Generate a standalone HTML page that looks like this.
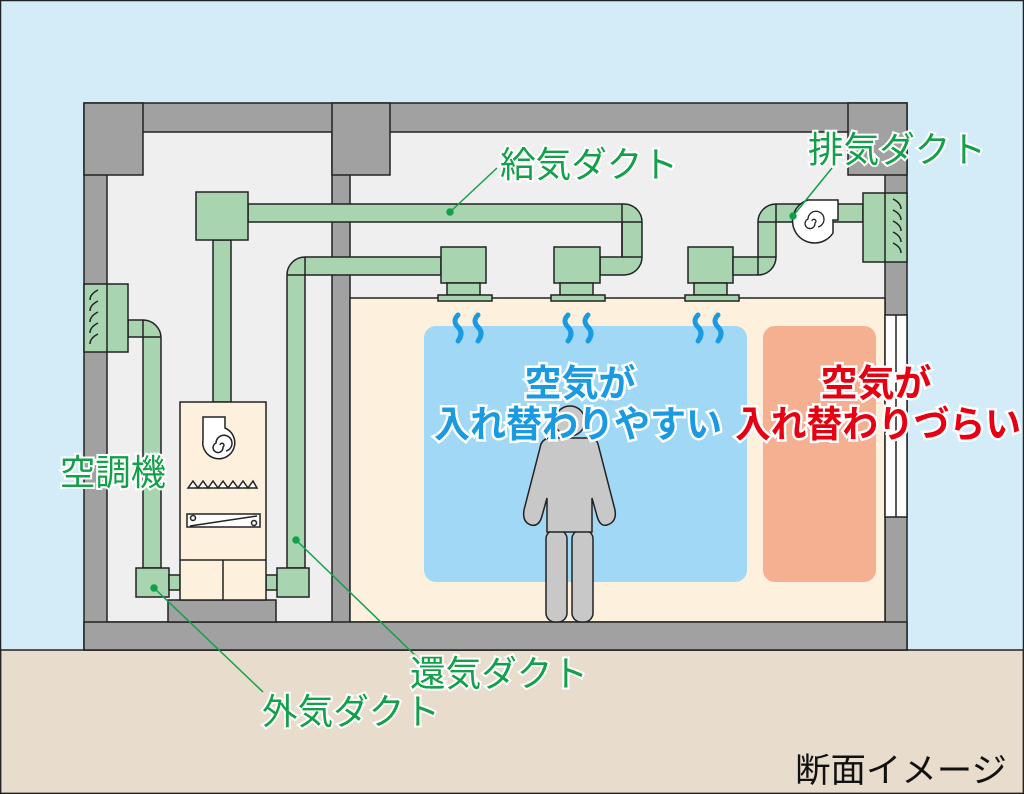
<!DOCTYPE html>
<html><head><meta charset="utf-8"><style>
html,body{margin:0;padding:0;background:#fff}
svg{display:block}
.g{font-family:"Liberation Sans","Noto Sans CJK JP",sans-serif;fill:#14a04a;stroke:#fff;stroke-width:4;paint-order:stroke;font-size:36px}
.b{font-family:"Liberation Sans","Noto Sans CJK JP",sans-serif;font-weight:bold;stroke:#fff;stroke-width:5;paint-order:stroke;font-size:37px}
</style></head><body>
<svg width="1024" height="794" viewBox="0 0 1024 794" xmlns="http://www.w3.org/2000/svg">
<rect x="0" y="0" width="1024" height="650" fill="#d4ebf8"/>
<rect x="0.5" y="650" width="1023" height="143.5" fill="#e8dccd" stroke="#222" stroke-width="1.5"/>
<rect x="0.5" y="0.5" width="1023" height="793" fill="none" stroke="#222" stroke-width="1.5"/>
<g stroke="#222" stroke-width="1.5">
<rect x="84" y="103" width="823" height="547" fill="#a0a1a0"/>
<rect x="107" y="132" width="225" height="490" fill="#efefef"/>
<rect x="350" y="132" width="535" height="490" fill="#efefef"/>
<rect x="350" y="298" width="535" height="324" fill="#fdf0dc"/>
<rect x="84" y="103" width="59" height="72" fill="#a0a1a0"/>
<rect x="332" y="103" width="58" height="72" fill="#a0a1a0"/>
<rect x="848" y="103" width="59" height="72" fill="#a0a1a0"/>
<rect x="84" y="622" width="823" height="28" fill="#a0a1a0"/>
<rect x="885" y="315" width="22" height="202" fill="#fff"/>
<line x1="896" y1="315" x2="896" y2="517"/>
<rect x="168" y="600" width="108" height="22" fill="#a0a1a0"/>
</g>
<rect x="424" y="326" width="323" height="256" rx="12" fill="#a0d8f5"/>
<rect x="763" y="326" width="113" height="256" rx="12" fill="#f4b090"/>
<g stroke="#222" stroke-width="1.5" fill="#a8d5b0">
<path d="M248 204 H624 A18 18 0 0 1 642 222 V257 A18 18 0 0 1 624 275 H600 V257 H622 V222 H248 Z"/>
<line x1="622" y1="204" x2="622" y2="257"/><line x1="622" y1="257" x2="642" y2="257"/><line x1="622" y1="222" x2="642" y2="222"/>
<rect x="213" y="240" width="18" height="162"/>
<rect x="196" y="192" width="52" height="48"/>
<path d="M441 257 H305 A18 18 0 0 0 287 275 V568 H305 V275 H441 Z"/>
<line x1="305" y1="257" x2="305" y2="275"/><line x1="287" y1="275" x2="305" y2="275"/>
<rect x="441" y="247" width="45" height="36"/><rect x="447" y="283" width="33" height="12"/><rect x="438" y="295" width="54" height="6"/>
<rect x="554" y="247" width="46" height="36"/><rect x="560" y="283" width="33" height="12"/><rect x="551" y="295" width="54" height="6"/>
<rect x="688" y="247" width="45" height="36"/><rect x="694" y="283" width="33" height="12"/><rect x="685" y="295" width="54" height="6"/>
<path d="M733 257 H758 V222 A18 18 0 0 1 776 204 H863 V222 H776 V257 A18 18 0 0 1 758 275 H733 Z"/>
<line x1="758" y1="222" x2="776" y2="222"/><line x1="776" y1="204" x2="776" y2="222"/><line x1="758" y1="257" x2="776" y2="257"/><line x1="758" y1="257" x2="758" y2="275"/>
<rect x="863" y="193" width="44" height="69"/><line x1="885" y1="193" x2="885" y2="262"/>
<path d="M128 320 H143 A18 18 0 0 1 161 338 V568 H143 V337 H128 Z"/>
<line x1="143" y1="320" x2="143" y2="337"/><line x1="143" y1="337" x2="161" y2="337"/>
<rect x="84" y="284" width="44" height="68"/><line x1="107" y1="284" x2="107" y2="352"/>
<rect x="136" y="568" width="33" height="29"/>
<rect x="169" y="575" width="11" height="15"/>
<rect x="266" y="575" width="11" height="15"/>
<rect x="277" y="568" width="32" height="29"/>
</g>
<g fill="none" stroke="#222" stroke-width="1.5">
<path d="M98 290 q-8 4 -8 10 M98 301 q-8 4 -8 10 M98 312 q-8 4 -8 10 M98 323 q-8 4 -8 10 M98 334 q-8 4 -8 10"/>
<path d="M893 199 q8 4 8 10 M893 210 q8 4 8 10 M893 221 q8 4 8 10 M893 232 q8 4 8 10 M893 243 q8 4 8 10"/>
</g>
<path d="M838 200 H808 A22 22 0 1 0 833 233 V220 H838 Z" fill="#fff" stroke="#222" stroke-width="1.5"/>
<path d="M812 221 a2 2 0 1 1 3 2 a5 5 0 1 1 -7 -4 a8 8 0 1 1 10 8" fill="none" stroke="#222" stroke-width="1.3"/>
<g stroke="#222" stroke-width="1.5">
<rect x="180" y="402" width="86" height="198" fill="#fdf0dc"/>
<line x1="180" y1="560" x2="266" y2="560"/><line x1="223" y1="560" x2="223" y2="600"/>
<path d="M203 417 H225 V428 A16 16 0 1 1 203 440 Z" fill="#fff"/>
<path d="M220 445 a2 2 0 1 1 3 2 a5 5 0 1 1 -7 -4 a8 8 0 1 1 10 8" fill="none"/>
<path d="M188 488 l5 -7 l5 7 l5 -7 l5 7 l5 -7 l5 7 l5 -7 l5 7 l5 -7 l5 7 l5 -7 l5 7 l5 -7 l4 7 Z" fill="#fff"/>
<rect x="187" y="514" width="73" height="13" fill="#fff"/>
<line x1="190" y1="526" x2="257" y2="516"/>
<circle cx="193" cy="518" r="2.5" fill="#fff"/><circle cx="254" cy="523" r="2.5" fill="#fff"/>
</g>
<g fill="none" stroke="#1a9ae0" stroke-width="5" stroke-linecap="round">
<path d="M458 315 q-6 6 0 12 q6 6 0 14"/><path d="M478 315 q-6 6 0 12 q6 6 0 14"/>
<path d="M568 315 q-6 6 0 12 q6 6 0 14"/><path d="M588 315 q-6 6 0 12 q6 6 0 14"/>
<path d="M698 315 q-6 6 0 12 q6 6 0 14"/><path d="M718 315 q-6 6 0 12 q6 6 0 14"/>
</g>
<g fill="#c8c8c8" stroke="#222" stroke-width="1.5">
<rect x="546" y="530" width="21" height="92" rx="9"/>
<rect x="572" y="530" width="21" height="92" rx="9"/>
<path d="M550 438 H590 Q596 438 598 444 L615 510 Q617 522 607 525 Q600 527 597 516 L592 498 V532 H547 V498 L542 516 Q539 527 531 525 Q522 522 524 510 L541 444 Q544 438 550 438 Z"/>
<circle cx="570" cy="421" r="15"/>
</g>
<text class="b" x="580" y="396" text-anchor="middle" fill="#1a9ae0">空気が</text>
<text class="b" x="578" y="437" text-anchor="middle" fill="#1a9ae0" textLength="288" lengthAdjust="spacingAndGlyphs">入れ替わりやすい</text>
<text class="b" x="876" y="396" text-anchor="middle" fill="#e60012">空気が</text>
<text class="b" x="878" y="437" text-anchor="middle" fill="#e60012" textLength="286" lengthAdjust="spacingAndGlyphs">入れ替わりづらい</text>
<g stroke="#14a04a" stroke-width="1.5" fill="#14a04a">
<line x1="450" y1="212" x2="497" y2="168"/><circle cx="450" cy="212" r="3"/>
<line x1="793" y1="216" x2="832" y2="168"/><circle cx="793" cy="216" r="3"/>
<line x1="296" y1="540" x2="420" y2="660"/><circle cx="296" cy="540" r="3"/>
<line x1="154" y1="588" x2="263" y2="692"/><circle cx="154" cy="588" r="3"/>
</g>
<text class="g" x="500" y="177" textLength="178" lengthAdjust="spacingAndGlyphs">給気ダクト</text>
<text class="g" x="808" y="162" textLength="178" lengthAdjust="spacingAndGlyphs">排気ダクト</text>
<text class="g" x="60" y="485" textLength="106" lengthAdjust="spacingAndGlyphs">空調機</text>
<text class="g" x="410" y="686" textLength="178" lengthAdjust="spacingAndGlyphs">還気ダクト</text>
<text class="g" x="262" y="724" textLength="178" lengthAdjust="spacingAndGlyphs">外気ダクト</text>
<text x="795" y="782" font-family="Liberation Sans,Noto Sans CJK JP,sans-serif" font-size="34" fill="#111" textLength="212" lengthAdjust="spacingAndGlyphs">断面イメージ</text>
</svg>
</body></html>
